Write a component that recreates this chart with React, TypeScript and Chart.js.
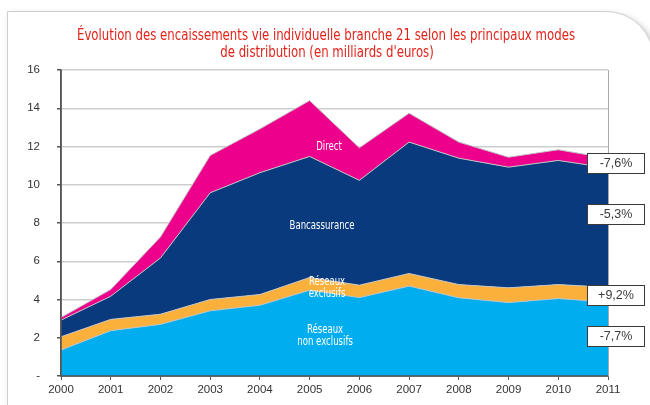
import React, { useEffect, useRef } from "react";
import { Chart, registerables } from "chart.js";

Chart.register(...registerables);

const YEARS = ["2000", "2001", "2002", "2003", "2004", "2005", "2006", "2007", "2008", "2009", "2010", "2011"];
const NON_EXCLUSIFS = [1.36, 2.37, 2.70, 3.41, 3.70, 4.49, 4.10, 4.70, 4.09, 3.84, 4.05, 3.86];
const EXCLUSIFS = [0.69, 0.59, 0.53, 0.59, 0.56, 0.66, 0.65, 0.66, 0.69, 0.77, 0.73, 0.78];
const BANCASSURANCE = [0.87, 1.21, 2.94, 5.58, 6.37, 6.33, 5.48, 6.87, 6.61, 6.31, 6.49, 6.24];
const DIRECT = [0.14, 0.35, 1.10, 1.95, 2.29, 2.92, 1.70, 1.51, 0.84, 0.52, 0.56, 0.50];
const SERIES_NAMES = ["Réseaux non exclusifs", "Réseaux exclusifs", "Bancassurance", "Direct"];
const TITLE_LINES = [
  "Évolution des encaissements vie individuelle branche 21 selon les principaux modes",
  "de distribution (en milliards d'euros)",
];
const CHANGE_LABELS = ["-7,6%", "-5,3%", "+9,2%", "-7,7%"];
const Y_MIN = 0;
const Y_MAX = 16;
const Y_STEP = 2;

const NARROW = "'Liberation Sans Narrow', 'DejaVu Sans Condensed', 'Liberation Sans', sans-serif";
const REGULAR = "'Liberation Sans', Arial, sans-serif";

// horizontal squeeze factor so that `ref` text at `size` spans `target` px
function squeeze(ctx: CanvasRenderingContext2D, ref: string, size: number, family: string, target: number) {
  ctx.font = `${size}px ${family}`;
  const w = ctx.measureText(ref).width;
  return w > 0 ? Math.min(1, target / w) : 1;
}

function drawSqueezed(ctx: CanvasRenderingContext2D, text: string, x: number, y: number, sx: number) {
  ctx.save();
  ctx.translate(x, y);
  ctx.scale(sx, 1);
  ctx.fillText(text, 0, 0);
  ctx.restore();
}

const overlayPlugin = {
  id: "overlay",
  afterDatasetsDraw(chart: any) {
    const { ctx, chartArea: a, scales } = chart;
    const xs = scales.x;
    const ys = scales.y;
    ctx.save();
    // right frame of plot
    ctx.strokeStyle = "#a9a9a9";
    ctx.lineWidth = 1;
    ctx.beginPath();
    ctx.moveTo(a.right + 0.5, a.top);
    ctx.lineTo(a.right + 0.5, a.bottom);
    ctx.stroke();
    // axis lines
    ctx.strokeStyle = "#555";
    ctx.lineWidth = 1.5;
    ctx.beginPath();
    ctx.moveTo(a.left, a.top);
    ctx.lineTo(a.left, a.bottom);
    ctx.lineTo(a.right, a.bottom);
    ctx.stroke();

    // area labels
    const size = 11.5;
    const sx = squeeze(ctx, "Bancassurance", size, NARROW, 65);
    ctx.fillStyle = "#ffffff";
    ctx.textAlign = "center";
    ctx.textBaseline = "middle";
    ctx.font = `${size}px ${NARROW}`;
    const labels: { lines: string[]; xi: number; yv: number }[] = [
      { lines: ["Direct"], xi: 5.39, yv: 11.97 },
      { lines: ["Bancassurance"], xi: 5.25, yv: 7.86 },
      { lines: ["Réseaux", "exclusifs"], xi: 5.35, yv: 4.6 },
      { lines: ["Réseaux", "non exclusifs"], xi: 5.31, yv: 2.09 },
    ];
    const lh = 12.5;
    labels.forEach((l) => {
      const cx = xs.getPixelForValue(l.xi);
      const cy = ys.getPixelForValue(l.yv);
      const n = l.lines.length;
      l.lines.forEach((t, i) => {
        drawSqueezed(ctx, t, cx, cy + (i - (n - 1) / 2) * lh, sx);
      });
    });
    ctx.restore();
  },
  afterDraw(chart: any) {
    const { ctx, chartArea: a, scales } = chart;
    const ys = scales.y;
    ctx.save();
    // title
    const tsize = 15.5;
    const tsx = squeeze(ctx, TITLE_LINES[0], tsize, NARROW, 498);
    ctx.fillStyle = "#E2231A";
    ctx.textAlign = "center";
    ctx.textBaseline = "middle";
    ctx.font = `${tsize}px ${NARROW}`;
    drawSqueezed(ctx, TITLE_LINES[0], 326, 36, tsx);
    drawSqueezed(ctx, TITLE_LINES[1], 327, 53, tsx);

    // change boxes
    const anchors = [11.15, 8.45, 4.25, 2.1];
    ctx.font = `12.5px ${REGULAR}`;
    CHANGE_LABELS.forEach((t, i) => {
      const cy = Math.round(ys.getPixelForValue(anchors[i]));
      const bx = a.right - 21;
      const bw = 57;
      const bh = 20;
      ctx.fillStyle = "#ffffff";
      ctx.fillRect(bx, cy - bh / 2, bw, bh);
      ctx.strokeStyle = "#3a3a3a";
      ctx.lineWidth = 1;
      ctx.strokeRect(bx + 0.5, cy - bh / 2 + 0.5, bw, bh);
      ctx.fillStyle = "#3a3a3a";
      ctx.fillText(t, bx + bw / 2 + 0.5, cy + 1);
    });
    ctx.restore();
  },
};

export default function App() {
  const ref = useRef<HTMLCanvasElement | null>(null);

  useEffect(() => {
    if (!ref.current) return;
    const fills = ["#00AEEF", "#FAB03A", "#0A3A7E", "#EC008C"];
    const values = [NON_EXCLUSIFS, EXCLUSIFS, BANCASSURANCE, DIRECT];
    const chart = new Chart(ref.current, {
      type: "line",
      data: {
        labels: YEARS,
        datasets: values.map((v, i) => ({
          label: SERIES_NAMES[i],
          data: v,
          backgroundColor: fills[i],
          borderColor: "#c3c3c3",
          borderWidth: 1,
          pointRadius: 0,
          tension: 0,
          fill: i === 0 ? "origin" : "-1",
        })),
      },
      options: {
        animation: false,
        responsive: false,
        layout: { padding: { left: 0, right: 42, top: 70, bottom: 0 } },
        plugins: {
          legend: { display: false },
          title: { display: false },
          tooltip: { enabled: false },
        },
        scales: {
          x: {
            offset: false,
            afterFit: (s: any) => {
              s.height = 29;
            },
            grid: {
              color: (c: any) => (c.index === YEARS.length - 1 ? "#a9a9a9" : "rgba(0,0,0,0)"),
              tickColor: "#555",
              tickLength: 4,
              drawTicks: true,
            },
            border: { color: "#555", width: 1.5 },
            ticks: {
              color: "#333",
              font: { family: REGULAR, size: 11.5 },
              padding: 3,
              maxRotation: 0,
              autoSkip: false,
            },
          },
          y: {
            stacked: true,
            min: Y_MIN,
            max: Y_MAX,
            afterFit: (s: any) => {
              s.width = 61;
            },
            grid: {
              color: "#cdcdcd",
              lineWidth: 1.5,
              tickColor: "#555",
              tickLength: 4,
            },
            border: { color: "#555", width: 1.5 },
            ticks: {
              stepSize: Y_STEP,
              color: "#333",
              font: { family: REGULAR, size: 11.5 },
              padding: 17,
              callback: (v: any) => (Number(v) === 0 ? "-" : String(v)),
            },
          },
        },
      },
      plugins: [overlayPlugin],
    });
    return () => chart.destroy();
  }, []);

  return (
    <div style={{ position: "fixed", left: 0, top: 0, width: 650, height: 405, overflow: "hidden", background: "#fff" }}>
      <div
        style={{
          position: "absolute",
          left: 7,
          top: 11,
          width: 645,
          height: 430,
          border: "1px solid #cfcfcf",
          borderTopRightRadius: 48,
          boxShadow: "3px 3px 6px rgba(0,0,0,0.22)",
          background: "#fff",
        }}
      />
      <canvas ref={ref} width={650} height={405} style={{ position: "absolute", left: 0, top: 0 }} />
    </div>
  );
}
